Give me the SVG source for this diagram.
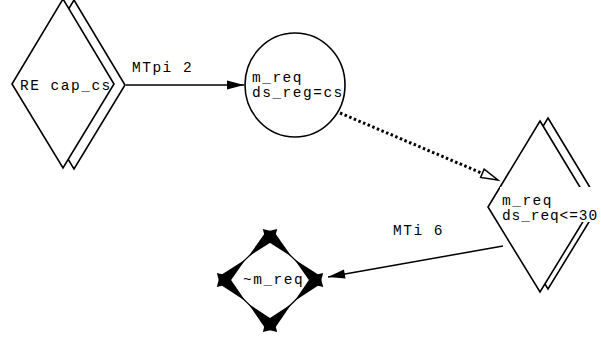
<svg xmlns="http://www.w3.org/2000/svg" xmlns:xlink="http://www.w3.org/1999/xlink" width="601" height="343" viewBox="0 0 601 343">
  <style>
    .shape { fill: #ffffff; stroke: #000000; stroke-width: 1.6; stroke-linejoin: miter; }
    .label { font-family: "Liberation Mono", "Courier New", monospace; font-size: 14.5px; letter-spacing: 1.5px; fill: #000000; }
    .tight { letter-spacing: 0.9px; }
    .edge { fill: none; stroke: #000000; stroke-width: 1.5; }
    .dotted { fill: none; stroke: #000000; stroke-width: 3; stroke-dasharray: 2.5 2.5; }
    .spike { fill: #000000; stroke: none; }
  </style>
  <defs>
    <marker id="arrow-solid" markerUnits="userSpaceOnUse" markerWidth="20" markerHeight="12" refX="17" refY="4.5" orient="auto" overflow="visible">
      <path d="M0,0 L17,4.5 L0,9 z" fill="#000000"/>
    </marker>
    <marker id="arrow-open" markerUnits="userSpaceOnUse" markerWidth="20" markerHeight="12" refX="17" refY="4.5" orient="auto" overflow="visible">
      <path d="M0,0 L17,4.5 L0,9 z" fill="#ffffff" stroke="#000000" stroke-width="1.5"/>
    </marker>
    <!-- tapered corner stroke: sits on a vertex, points toward the neighbouring vertex -->
    <path id="spike" d="M-10,0 L0,-6 L30,0 L0,6 z"/>
  </defs>

  <rect width="601" height="343" fill="#ffffff"/>

  <g id="connectors">
    <line class="edge" x1="126" y1="85" x2="244" y2="85" marker-end="url(#arrow-solid)"/>
    <line class="dotted" x1="340" y1="113" x2="482" y2="173.2"/>
    <line x1="482" y1="173.2" x2="498" y2="180" stroke="none" marker-end="url(#arrow-open)"/>
    <line class="edge" x1="503" y1="246" x2="328" y2="277" marker-end="url(#arrow-solid)"/>
    <text class="label" x="132" y="72">MTpi 2</text>
    <text class="label" x="393" y="235">MTi 6</text>
  </g>

  <g id="node-re-cap-cs">
    <polygon class="shape" points="74,0 125,85 74,169 23,85"/>
    <polygon class="shape" points="63,-1 114,84 63,168 12,84"/>
    <text class="label" x="20" y="90">RE cap_cs</text>
  </g>

  <g id="node-m-req-cs">
    <ellipse class="shape" cx="295" cy="85" rx="50" ry="52"/>
    <text class="label" x="252" y="82">m_req</text>
    <text class="label" x="252" y="97">ds_reg=cs</text>
  </g>

  <g id="node-m-req-30">
    <polygon class="shape" points="548,118 600,204 548,289 496,204"/>
    <polygon class="shape" points="540,121 592,207 540,292 488,207"/>
    <rect x="500" y="187" width="101" height="35" fill="#ffffff"/>
    <text class="label" x="502" y="205">m_req</text>
    <text class="label tight" x="502" y="220">ds_req&lt;=30</text>
  </g>

  <g id="node-not-m-req">
    <polygon points="270,236 316,280 270,325 224,280" fill="#ffffff" stroke="#000000" stroke-width="1.3"/>
    <g class="spike">
      <use xlink:href="#spike" transform="translate(270,236) rotate(43.7)"/>
      <use xlink:href="#spike" transform="translate(270,236) rotate(136.3)"/>
      <use xlink:href="#spike" transform="translate(316,280) rotate(-136.3)"/>
      <use xlink:href="#spike" transform="translate(316,280) rotate(135.6)"/>
      <use xlink:href="#spike" transform="translate(270,325) rotate(-44.4)"/>
      <use xlink:href="#spike" transform="translate(270,325) rotate(-135.6)"/>
      <use xlink:href="#spike" transform="translate(224,280) rotate(-43.7)"/>
      <use xlink:href="#spike" transform="translate(224,280) rotate(44.4)"/>
    </g>
    <text class="label" x="243" y="284">~m_req</text>
  </g>
</svg>
